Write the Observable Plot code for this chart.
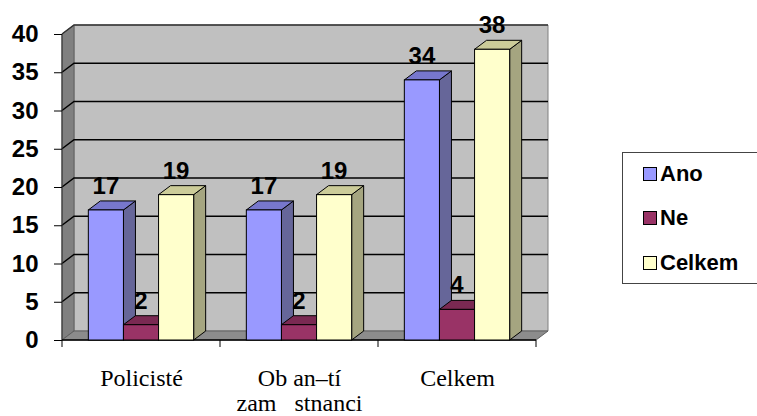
<!DOCTYPE html>
<html>
<head>
<meta charset="utf-8">
<script src="https://cdn.jsdelivr.net/npm/d3@7"></script>
<script src="https://cdn.jsdelivr.net/npm/@observablehq/plot@0.6"></script>
<style>
  body { margin: 0; background: #fff; }
  #chart { position: relative; width: 757px; height: 416px; overflow: hidden; }
  #chart svg { position: absolute; left: 0; top: 0; }
  .legend { position: absolute; left: 622px; top: 152px; width: 150px; height: 130px;
            border: 1px solid #444; background: #fff;
            font: bold 22px "Liberation Sans", Arial, sans-serif; }
  .legend .item { position: absolute; left: 20px; height: 26px; display: flex; align-items: center; }
  .legend .sw { width: 12px; height: 12px; border: 1.5px solid #000; margin-right: 3px; }
</style>
</head>
<body>
<div id="chart"></div>
<script>
// Categories, series and values
const categories = ["Policisté", "Ob an–tí\nzam\u00a0\u00a0\u00a0stnanci", "Celkem"];
const series = ["Ano", "Ne", "Celkem"];
const ano = [17, 17, 34];
const ne = [2, 2, 4];
const celkem = [19, 19, 38];
const yTicks = [0, 5, 10, 15, 20, 25, 30, 35, 40];

// Face colours per series: front, top, side
const fronts = ["#9999FF", "#993366", "#FFFFCC"];
const tops = ["#7777CC", "#7A2952", "#CCCC99"];
const sides = ["#666699", "#66223F", "#A5A580"];

const rows = categories.flatMap((c, i) =>
  [ano, ne, celkem].map((vals, j) => ({category: c, series: series[j], value: vals[i]}))
);

// depth of the 3-D box, in pixels
const DX = 12, DY = -9;
const pts = (a) => a.map(p => p.join(",")).join(" ");

// back wall, side wall, floor and gridlines
function walls(index, {x, y}) {
  const g = d3.create("svg:g");
  const [x0, x1] = x.range();
  const yb = y(0), yt = y(yTicks[yTicks.length - 1]);
  g.append("polygon").attr("points", pts([[x0 + DX, yt + DY], [x1 + DX, yt + DY], [x1 + DX, yb + DY], [x0 + DX, yb + DY]]))
    .attr("fill", "#C0C0C0").attr("stroke", "#808080");
  g.append("polygon").attr("points", pts([[x0, yt], [x0 + DX, yt + DY], [x0 + DX, yb + DY], [x0, yb]]))
    .attr("fill", "#808080").attr("stroke", "#606060");
  g.append("polygon").attr("points", pts([[x0, yb], [x0 + DX, yb + DY], [x1 + DX, yb + DY], [x1, yb]]))
    .attr("fill", "#8C8C8C").attr("stroke", "#606060");
  for (const v of yTicks.slice(1)) {
    const yy = y(v);
    g.append("polyline").attr("points", pts([[x0, yy], [x0 + DX, yy + DY], [x1 + DX, yy + DY]]))
      .attr("fill", "none").attr("stroke", v === yTicks[yTicks.length - 1] ? "#333" : "#000").attr("stroke-width", 1.5);
  }
  // front edges of the axes
  g.append("line").attr("x1", x0).attr("x2", x0).attr("y1", yt).attr("y2", yb).attr("stroke", "#333");
  g.append("line").attr("x1", x0).attr("x2", x1).attr("y1", yb).attr("y2", yb).attr("stroke", "#000").attr("stroke-width", 1.5);
  // category boundary ticks
  const bounds = categories.map(c => x(c)).concat([x1]);
  for (const bx of bounds) {
    g.append("line").attr("x1", bx).attr("x2", bx).attr("y1", yb).attr("y2", yb + 7).attr("stroke", "#000");
  }
  return g.node();
}

function slotOf(x, r) {
  const slot = x.bandwidth() / (series.length + 1.5);
  const j = series.indexOf(r.series);
  const xl = x(r.category) + 0.75 * slot + j * slot;
  return [xl, xl + slot];
}

// 3-D columns
function bars3d(index, {x, y}) {
  const g = d3.create("svg:g").attr("stroke", "#000").attr("stroke-width", 1);
  for (const r of rows) {
    const j = series.indexOf(r.series);
    const [xl, xr] = slotOf(x, r);
    const yv = y(r.value), y0 = y(0);
    g.append("polygon").attr("points", pts([[xr, yv], [xr + DX, yv + DY], [xr + DX, y0 + DY], [xr, y0]])).attr("fill", sides[j]);
    g.append("polygon").attr("points", pts([[xl, yv], [xl + DX, yv + DY], [xr + DX, yv + DY], [xr, yv]])).attr("fill", tops[j]);
    g.append("rect").attr("x", xl).attr("y", yv).attr("width", xr - xl).attr("height", y0 - yv).attr("fill", fronts[j]);
  }
  return g.node();
}

// value labels above the columns
function valueLabels(index, {x, y}) {
  const g = d3.create("svg:g")
    .attr("font-family", "Liberation Sans, Arial, sans-serif")
    .attr("font-weight", "bold").attr("font-size", 24).attr("text-anchor", "middle");
  for (const r of rows) {
    const [xl, xr] = slotOf(x, r);
    g.append("text").attr("x", (xl + xr) / 2).attr("y", y(r.value) - 16).text(r.value);
  }
  return g.node();
}

const chart = Plot.plot({
  width: 757,
  height: 416,
  marginLeft: 62,
  marginRight: 221,
  marginTop: 34,
  marginBottom: 76,
  style: {background: "transparent", color: "#000", fontFamily: "Liberation Sans, Arial, sans-serif"},
  x: {type: "band", domain: categories, padding: 0, axis: null},
  y: {domain: [0, 40]},
  marks: [
    walls,
    Plot.axisY(yTicks, {tickSize: 8, tickPadding: 16, fontSize: 24, fontWeight: "bold", stroke: "#000"}),
    Plot.text(categories, {
      x: d => d, frameAnchor: "bottom", lineAnchor: "top", dy: 28,
      fontFamily: "Liberation Serif", fontSize: 24, lineHeight: 1.042, fill: "#000"
    }),
    bars3d,
    valueLabels
  ]
});

const root = document.getElementById("chart");
root.append(chart);

// legend
const legend = document.createElement("div");
legend.className = "legend";
series.forEach((s, j) => {
  const item = document.createElement("div");
  item.className = "item";
  item.style.top = [8, 52, 97][j] + "px";
  const sw = document.createElement("span");
  sw.className = "sw";
  sw.style.background = fronts[j];
  const t = document.createElement("span");
  t.textContent = s;
  item.append(sw, t);
  legend.append(item);
});
root.append(legend);
</script>
</body>
</html>
